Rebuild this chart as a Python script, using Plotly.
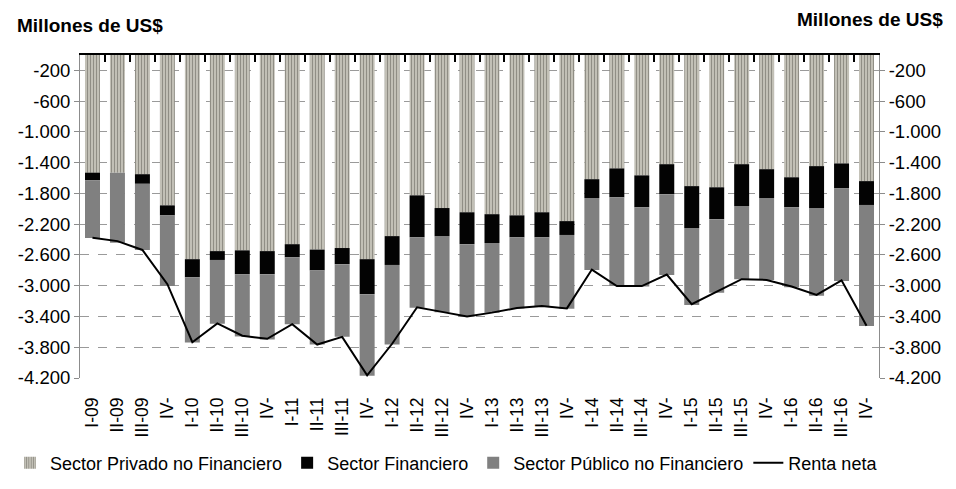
import plotly.graph_objects as go

periodos = ["I-09", "II-09", "III-09", "IV-",
            "I-10", "II-10", "III-10", "IV-",
            "I-11", "II-11", "III-11", "IV-",
            "I-12", "II-12", "III-12", "IV-",
            "I-13", "II-13", "III-13", "IV-",
            "I-14", "II-14", "III-14", "IV-",
            "I-15", "II-15", "III-15", "IV-",
            "I-16", "II-16", "III-16", "IV-"]

privado_no_fin = [-1530, -1530, -1550, -1955, -2655, -2550, -2540, -2550,
                  -2460, -2530, -2510, -2655, -2355, -1825, -1990, -2045,
                  -2070, -2085, -2045, -2160, -1615, -1475, -1565, -1420,
                  -1705, -1720, -1420, -1485, -1590, -1445, -1410, -1640]
financiero = [-100, 20, -125, -130, -235, -115, -310, -300,
              -170, -270, -210, -455, -375, -545, -365, -415,
              -375, -285, -325, -180, -245, -375, -415, -390,
              -545, -415, -545, -375, -390, -545, -325, -310]
publico_no_fin = [-750, -910, -860, -920, -850, -830, -810, -850,
                  -870, -965, -945, -1060, -1035, -915, -990, -940,
                  -905, -925, -900, -960, -935, -1155, -1030, -1050,
                  -1000, -955, -950, -1065, -1040, -1140, -1205, -1575]
renta_neta = [-2375, -2420, -2535, -2980, -3735, -3490, -3650, -3690,
              -3500, -3765, -3665, -4165, -3755, -3280, -3340, -3400,
              -3350, -3290, -3265, -3295, -2790, -3005, -3005, -2855,
              -3240, -3075, -2915, -2925, -3010, -3120, -2930, -3520]

y_ticks = list(range(-200, -4201, -400))
y_text = [f"{v:,}".replace(",", ".") for v in y_ticks]
x = list(range(len(periodos)))
FONT = "Liberation Sans, Arial, Helvetica, sans-serif"

fig = go.Figure()
fig.add_trace(go.Bar(
    x=x, y=privado_no_fin, name="Sector Privado no Financiero",
    marker=dict(color="#d2d0c6", line=dict(width=0),
                pattern=dict(shape="|", fgcolor="#4e4c44", bgcolor="#d2d0c6",
                             size=3, solidity=0.5))
))
fig.add_trace(go.Bar(
    x=x, y=financiero, name="Sector Financiero",
    marker=dict(color="#030303", line=dict(width=0))
))
fig.add_trace(go.Bar(
    x=x, y=publico_no_fin, name="Sector Público no Financiero",
    marker=dict(color="#808080", line=dict(width=0))
))
fig.add_trace(go.Scatter(
    x=x, y=renta_neta, name="Renta neta", mode="lines",
    line=dict(color="#000000", width=2),
    xaxis="x2", yaxis="y2"
))

yaxis_common = dict(
    range=[-4200, 0], tickvals=y_ticks, ticktext=y_text,
    showline=True, linecolor="#8c8c8c", linewidth=1,
    ticks="outside", ticklen=5, tickcolor="#8c8c8c",
    tickfont=dict(size=18.5, color="#000000"), zeroline=False,
    automargin=False,
)
fig.update_layout(
    barmode="relative",
    bargap=0.4,
    width=956, height=489,
    margin=dict(l=80, r=77, t=55, b=111, autoexpand=False),
    plot_bgcolor="white", paper_bgcolor="white",
    font=dict(family=FONT, color="#000000"),
    xaxis=dict(
        range=[-0.5, len(periodos) - 0.5], tickvals=x, ticktext=periodos,
        tickangle=-90, ticks="", showline=False, showgrid=False,
        zeroline=False, tickfont=dict(size=17.5), ticklabelstandoff=15,
        automargin=False,
    ),
    xaxis2=dict(
        overlaying="x", side="top", anchor="y2",
        range=[-0.5, len(periodos) - 0.5], tick0=-0.5, dtick=1,
        showticklabels=False, ticks="inside", ticklen=7, tickwidth=2,
        tickcolor="#000000", showline=True, linecolor="#000000", linewidth=2,
        showgrid=False, zeroline=False, automargin=False,
    ),
    yaxis=dict(
        **yaxis_common, side="left",
        showgrid=True, gridcolor="#9a9a9a", griddash="dash", gridwidth=1,
    ),
    yaxis2=dict(
        **yaxis_common, side="right", overlaying="y", anchor="x2",
        showgrid=False,
    ),
    legend=dict(
        orientation="h", x=-0.0876, xanchor="left", y=-0.263, yanchor="middle",
        font=dict(size=18), traceorder="normal",
        itemwidth=30, tracegroupgap=0,
    ),
    annotations=[
        dict(text="<b>Millones de US$</b>", xref="paper", yref="paper",
             x=-0.0814, y=1.091, xanchor="left", yanchor="middle",
             showarrow=False, font=dict(size=19)),
        dict(text="<b>Millones de US$</b>", xref="paper", yref="paper",
             x=1.0826, y=1.110, xanchor="right", yanchor="middle",
             showarrow=False, font=dict(size=19)),
    ],
)

fig.write_html("out.html", config={"displayModeBar": False},
               post_script="document.body.style.margin='0';")
